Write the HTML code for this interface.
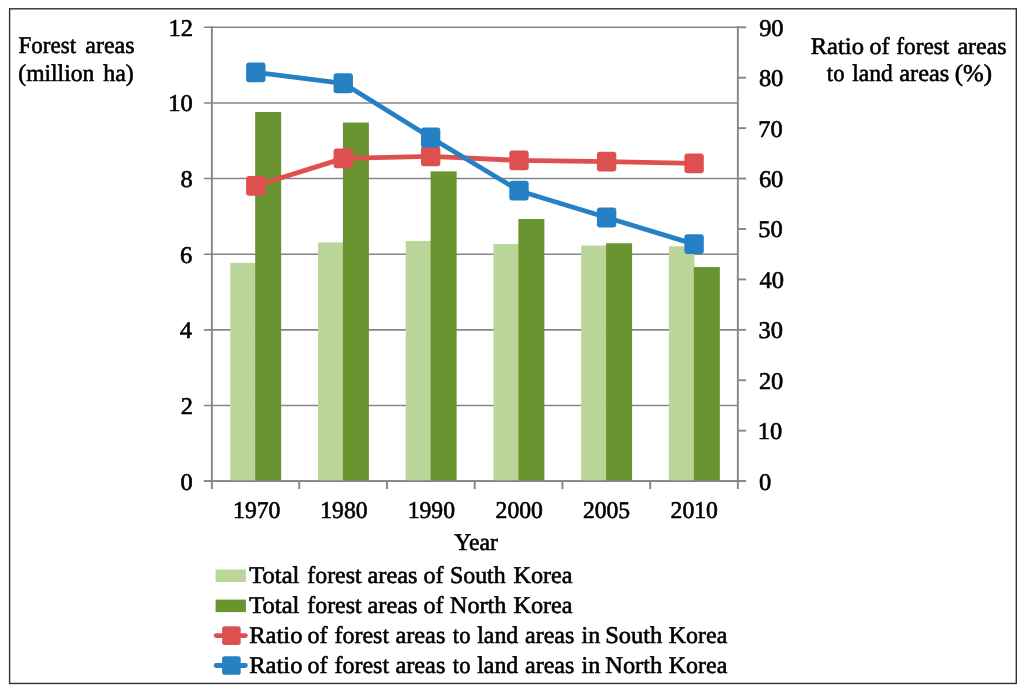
<!DOCTYPE html>
<html><head><meta charset="utf-8"><title>Forest areas</title>
<style>
html,body{margin:0;padding:0;background:#fff;}
body{width:1024px;height:690px;overflow:hidden;font-family:"Liberation Serif",serif;}
svg{display:block;will-change:transform;}
text{font-family:"Liberation Serif",serif;font-size:24px;fill:#000;stroke:#000;stroke-width:0.6px;text-rendering:geometricPrecision;}
</style></head><body>
<svg width="1024" height="690" viewBox="0 0 1024 690">
<rect x="0" y="0" width="1024" height="690" fill="#fff"/>
<rect x="9.6" y="8.8" width="1006.7" height="674.65" fill="none" stroke="#333" stroke-width="1.4"/>
<line x1="203.85" y1="481.10" x2="737.85" y2="481.10" stroke="#868686" stroke-width="1.6"/>
<line x1="203.85" y1="405.47" x2="737.85" y2="405.47" stroke="#868686" stroke-width="1.6"/>
<line x1="203.85" y1="329.83" x2="737.85" y2="329.83" stroke="#868686" stroke-width="1.6"/>
<line x1="203.85" y1="254.20" x2="737.85" y2="254.20" stroke="#868686" stroke-width="1.6"/>
<line x1="203.85" y1="178.57" x2="737.85" y2="178.57" stroke="#868686" stroke-width="1.6"/>
<line x1="203.85" y1="102.93" x2="737.85" y2="102.93" stroke="#868686" stroke-width="1.6"/>
<line x1="203.85" y1="27.30" x2="737.85" y2="27.30" stroke="#868686" stroke-width="1.6"/>
<rect x="230.27" y="262.90" width="25.4" height="218.20" fill="#bad698"/>
<rect x="255.17" y="112.01" width="26.0" height="369.09" fill="#6a9430"/>
<rect x="318.00" y="242.48" width="25.4" height="238.62" fill="#bad698"/>
<rect x="342.90" y="122.60" width="26.0" height="358.50" fill="#6a9430"/>
<rect x="405.73" y="240.96" width="25.4" height="240.14" fill="#bad698"/>
<rect x="430.63" y="171.38" width="26.0" height="309.72" fill="#6a9430"/>
<rect x="493.47" y="243.99" width="25.4" height="237.11" fill="#bad698"/>
<rect x="518.37" y="219.03" width="26.0" height="262.07" fill="#6a9430"/>
<rect x="581.20" y="245.50" width="25.4" height="235.60" fill="#bad698"/>
<rect x="606.10" y="243.23" width="26.0" height="237.87" fill="#6a9430"/>
<rect x="668.93" y="246.26" width="25.4" height="234.84" fill="#bad698"/>
<rect x="693.83" y="267.06" width="26.0" height="214.04" fill="#6a9430"/>
<line x1="203.85" y1="481.10" x2="745.85" y2="481.10" stroke="#868686" stroke-width="1.9"/>
<line x1="211.85" y1="26.35" x2="211.85" y2="489.10" stroke="#868686" stroke-width="1.9"/>
<line x1="737.85" y1="26.35" x2="737.85" y2="489.10" stroke="#868686" stroke-width="1.9"/>
<line x1="737.85" y1="481.10" x2="746.15" y2="481.10" stroke="#868686" stroke-width="1.9"/>
<line x1="737.85" y1="430.68" x2="746.15" y2="430.68" stroke="#868686" stroke-width="1.9"/>
<line x1="737.85" y1="380.26" x2="746.15" y2="380.26" stroke="#868686" stroke-width="1.9"/>
<line x1="737.85" y1="329.83" x2="746.15" y2="329.83" stroke="#868686" stroke-width="1.9"/>
<line x1="737.85" y1="279.41" x2="746.15" y2="279.41" stroke="#868686" stroke-width="1.9"/>
<line x1="737.85" y1="228.99" x2="746.15" y2="228.99" stroke="#868686" stroke-width="1.9"/>
<line x1="737.85" y1="178.57" x2="746.15" y2="178.57" stroke="#868686" stroke-width="1.9"/>
<line x1="737.85" y1="128.14" x2="746.15" y2="128.14" stroke="#868686" stroke-width="1.9"/>
<line x1="737.85" y1="77.72" x2="746.15" y2="77.72" stroke="#868686" stroke-width="1.9"/>
<line x1="737.85" y1="27.30" x2="746.15" y2="27.30" stroke="#868686" stroke-width="1.9"/>
<line x1="299.23" y1="481.10" x2="299.23" y2="489.10" stroke="#868686" stroke-width="1.9"/>
<line x1="386.97" y1="481.10" x2="386.97" y2="489.10" stroke="#868686" stroke-width="1.9"/>
<line x1="474.70" y1="481.10" x2="474.70" y2="489.10" stroke="#868686" stroke-width="1.9"/>
<line x1="562.43" y1="481.10" x2="562.43" y2="489.10" stroke="#868686" stroke-width="1.9"/>
<line x1="650.17" y1="481.10" x2="650.17" y2="489.10" stroke="#868686" stroke-width="1.9"/>
<polyline points="255.80,185.83 343.25,158.40 430.65,156.38 519.00,160.41 606.60,161.68 694.10,163.44" fill="none" stroke="#de5050" stroke-width="4.8" stroke-linejoin="round" stroke-linecap="round"/>
<rect x="246.10" y="175.93" width="19.4" height="19.8" rx="3" fill="#de5050"/>
<rect x="333.55" y="148.50" width="19.4" height="19.8" rx="3" fill="#de5050"/>
<rect x="420.95" y="146.48" width="19.4" height="19.8" rx="3" fill="#de5050"/>
<rect x="509.30" y="150.51" width="19.4" height="19.8" rx="3" fill="#de5050"/>
<rect x="596.90" y="151.78" width="19.4" height="19.8" rx="3" fill="#de5050"/>
<rect x="684.40" y="153.54" width="19.4" height="19.8" rx="3" fill="#de5050"/>
<polyline points="255.80,72.38 343.25,83.27 430.65,137.52 519.00,190.67 606.60,217.49 694.10,244.12" fill="none" stroke="#2581c4" stroke-width="4.8" stroke-linejoin="round" stroke-linecap="round"/>
<rect x="246.10" y="62.48" width="19.4" height="19.8" rx="3" fill="#2581c4"/>
<rect x="333.55" y="73.37" width="19.4" height="19.8" rx="3" fill="#2581c4"/>
<rect x="420.95" y="127.62" width="19.4" height="19.8" rx="3" fill="#2581c4"/>
<rect x="509.30" y="180.77" width="19.4" height="19.8" rx="3" fill="#2581c4"/>
<rect x="596.90" y="207.59" width="19.4" height="19.8" rx="3" fill="#2581c4"/>
<rect x="684.40" y="234.22" width="19.4" height="19.8" rx="3" fill="#2581c4"/>
<text transform="translate(180.38,489.60) scale(1.0200,1.0)">0</text>
<text transform="translate(180.63,413.97) scale(1.0200,1.0)">2</text>
<text transform="translate(179.87,338.33) scale(1.0200,1.0)">4</text>
<text transform="translate(180.12,262.70) scale(1.0200,1.0)">6</text>
<text transform="translate(180.38,187.07) scale(1.0200,1.0)">8</text>
<text transform="translate(168.14,111.43) scale(1.0200,1.0)">10</text>
<text transform="translate(168.39,35.80) scale(1.0200,1.0)">12</text>
<text transform="translate(758.88,489.60) scale(1.0200,1.0)">0</text>
<text transform="translate(757.86,439.18) scale(1.0200,1.0)">10</text>
<text transform="translate(758.88,388.76) scale(1.0200,1.0)">20</text>
<text transform="translate(758.62,338.33) scale(1.0200,1.0)">30</text>
<text transform="translate(759.39,287.91) scale(1.0200,1.0)">40</text>
<text transform="translate(758.37,237.49) scale(1.0200,1.0)">50</text>
<text transform="translate(758.88,187.07) scale(1.0200,1.0)">60</text>
<text transform="translate(758.37,136.64) scale(1.0200,1.0)">70</text>
<text transform="translate(758.88,86.22) scale(1.0200,1.0)">80</text>
<text transform="translate(759.13,35.80) scale(1.0200,1.0)">90</text>
<text transform="translate(233.07,517.70) scale(0.9850,1.0)">1970</text>
<text transform="translate(320.27,517.70) scale(0.9850,1.0)">1980</text>
<text transform="translate(407.67,517.70) scale(0.9850,1.0)">1990</text>
<text transform="translate(495.56,517.70) scale(0.9850,1.0)">2000</text>
<text transform="translate(582.91,517.70) scale(0.9850,1.0)">2005</text>
<text transform="translate(670.56,517.70) scale(0.9850,1.0)">2010</text>
<text transform="translate(454.35,550.10) scale(0.9851,1.0)">Year</text>
<text transform="translate(18.58,53.30) scale(0.9576,1.0)">Forest</text>
<text transform="translate(85.35,53.30) scale(0.9990,1.0)">areas</text>
<text transform="translate(18.32,80.80) scale(0.9816,1.0)">(million</text>
<text transform="translate(103.25,80.80) scale(0.9949,1.0)">ha)</text>
<text transform="translate(810.73,53.80) scale(1.0229,1.0)">Ratio</text>
<text transform="translate(869.40,53.80) scale(1.0000,1.0)">of</text>
<text transform="translate(896.27,53.80) scale(0.9693,1.0)">forest</text>
<text transform="translate(957.45,53.80) scale(0.9990,1.0)">areas</text>
<text transform="translate(826.86,80.80) scale(0.9429,1.0)">to</text>
<text transform="translate(852.21,80.80) scale(0.9778,1.0)">land</text>
<text transform="translate(899.34,80.80) scale(1.0115,1.0)">areas</text>
<text transform="translate(954.66,80.80) scale(1.0353,1.0)">(%)</text>
<rect x="215.6" y="569.5" width="30.3" height="12.5" fill="#bad698"/>
<rect x="215.6" y="599.6" width="30.3" height="12.5" fill="#6a9430"/>
<line x1="216.2" y1="635.6" x2="245.4" y2="635.6" stroke="#de5050" stroke-width="4.8" stroke-linecap="round"/>
<rect x="222.10" y="626.30" width="18.6" height="18.6" rx="2.6" fill="#de5050"/>
<line x1="216.2" y1="665.5" x2="245.4" y2="665.5" stroke="#2581c4" stroke-width="4.8" stroke-linecap="round"/>
<rect x="222.10" y="656.20" width="18.6" height="18.6" rx="2.6" fill="#2581c4"/>
<text transform="translate(249.19,583.10) scale(1.0250,1.0)">Total</text>
<text transform="translate(307.36,583.10) scale(0.9916,1.0)">forest</text>
<text transform="translate(367.54,583.10) scale(1.0136,1.0)">areas</text>
<text transform="translate(423.60,583.10) scale(1.0000,1.0)">of</text>
<text transform="translate(449.96,583.10) scale(0.9945,1.0)">South</text>
<text transform="translate(513.44,583.10) scale(1.0087,1.0)">Korea</text>
<text transform="translate(249.19,613.20) scale(1.0250,1.0)">Total</text>
<text transform="translate(307.36,613.20) scale(0.9916,1.0)">forest</text>
<text transform="translate(367.54,613.20) scale(1.0136,1.0)">areas</text>
<text transform="translate(423.60,613.20) scale(1.0000,1.0)">of</text>
<text transform="translate(450.05,613.20) scale(1.0045,1.0)">North</text>
<text transform="translate(513.44,613.20) scale(1.0087,1.0)">Korea</text>
<text transform="translate(249.18,643.30) scale(1.0239,1.0)">Ratio</text>
<text transform="translate(307.45,643.30) scale(1.0000,1.0)">of</text>
<text transform="translate(334.45,643.30) scale(0.9991,1.0)">forest</text>
<text transform="translate(395.44,643.30) scale(1.0126,1.0)">areas</text>
<text transform="translate(452.87,643.30) scale(0.9400,1.0)">to</text>
<text transform="translate(477.20,643.30) scale(0.9926,1.0)">land</text>
<text transform="translate(525.05,643.30) scale(1.0000,1.0)">areas</text>
<text transform="translate(581.60,643.30) scale(1.0028,1.0)">in</text>
<text transform="translate(605.17,643.30) scale(1.0175,1.0)">South</text>
<text transform="translate(668.70,643.30) scale(0.9991,1.0)">Korea</text>
<text transform="translate(249.18,673.30) scale(1.0239,1.0)">Ratio</text>
<text transform="translate(307.45,673.30) scale(1.0000,1.0)">of</text>
<text transform="translate(334.45,673.30) scale(0.9991,1.0)">forest</text>
<text transform="translate(395.44,673.30) scale(1.0126,1.0)">areas</text>
<text transform="translate(452.87,673.30) scale(0.9400,1.0)">to</text>
<text transform="translate(477.20,673.30) scale(0.9926,1.0)">land</text>
<text transform="translate(525.05,673.30) scale(1.0000,1.0)">areas</text>
<text transform="translate(581.60,673.30) scale(1.0028,1.0)">in</text>
<text transform="translate(605.34,673.30) scale(1.0145,1.0)">North</text>
<text transform="translate(668.70,673.30) scale(0.9991,1.0)">Korea</text>
</svg></body></html>
